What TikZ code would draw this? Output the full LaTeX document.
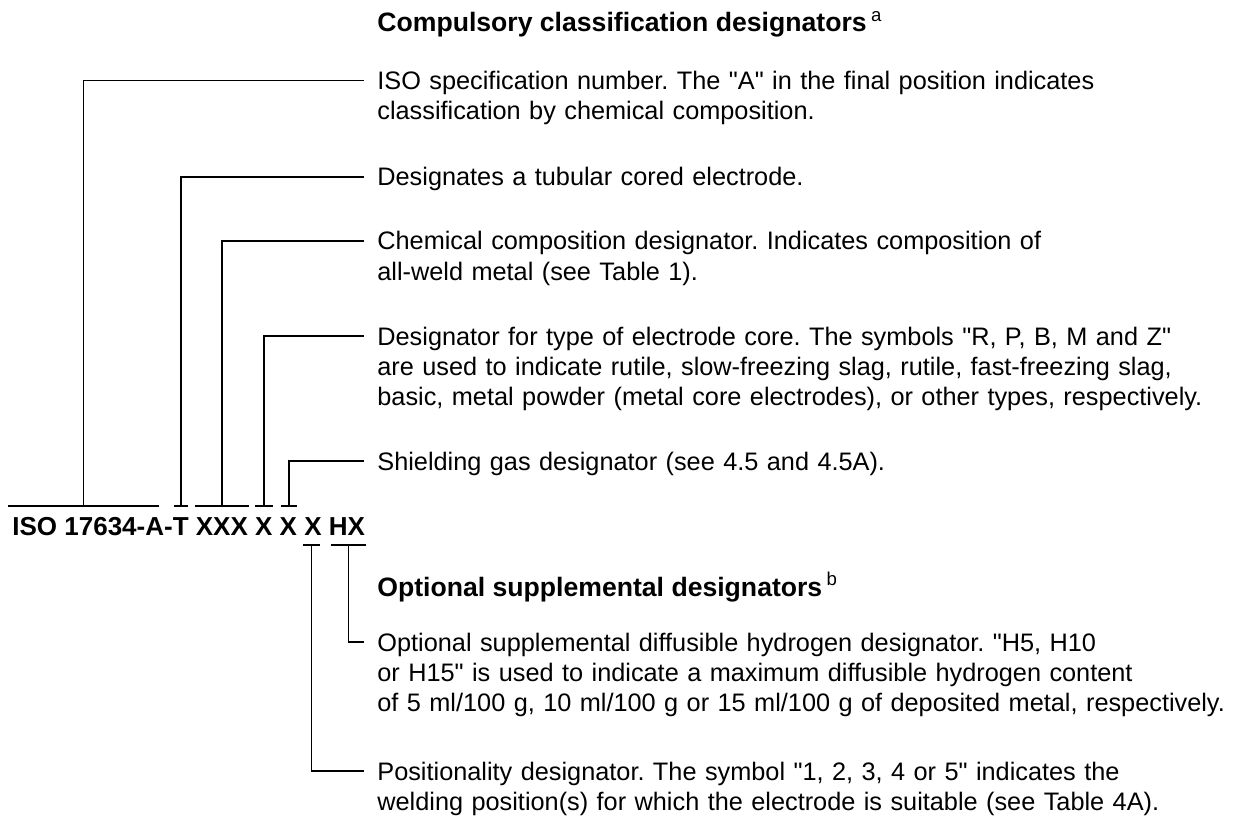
\documentclass[tikz,border=0pt]{standalone}
\usepackage{fontspec}
\setmainfont{Liberation Sans}
\usetikzlibrary{calc}
\frenchspacing

\begin{document}
\begin{tikzpicture}[
    x=0.5pt, y=-0.5pt,
    lead/.style={line width=0.7pt, color=black},
    desc/.style={anchor=base west, inner sep=0pt, align=left, text width=440pt,
                 font=\fontsize{12.65pt}{15pt}\selectfont},
    head/.style={anchor=base west, inner sep=0pt,
                 font=\fontsize{13.3pt}{15pt}\selectfont\bfseries},
  ]
    \useasboundingbox (0,0) rectangle (1242,818);

    %% the designation itself
    \node[head, font=\fontsize{13pt}{15pt}\selectfont\bfseries] (code) at (12,535)
      {ISO 17634-A-T XXX X X X HX};

    %% group headings
    \node[head] (comp) at (377,32)
      {Compulsory classification designators\,\textsuperscript{\mdseries a}};
    \node[head] (opt) at (377,596)
      {Optional supplemental designators\,\textsuperscript{\mdseries b}};

    %% descriptions
    \node[desc] (iso) at (377,89.5)
      {ISO specification number. The \textquotedbl A\textquotedbl{} in the final position indicates\\
       classification by chemical composition.};
    \node[desc] (tub) at (377,186) {Designates a tubular cored electrode.};
    \node[desc] (chem) at (377,250)
      {Chemical composition designator. Indicates composition of\\
       all-weld metal (see Table 1).};
    \node[desc] (core) at (377,345)
      {Designator for type of electrode core. The symbols \textquotedbl R, P, B, M and Z\textquotedbl\\
       are used to indicate rutile, slow-freezing slag, rutile, fast-freezing slag,\\
       basic, metal powder (metal core electrodes), or other types, respectively.};
    \node[desc] (gas) at (377,470) {Shielding gas designator (see 4.5 and 4.5A).};
    \node[desc] (hyd) at (377,651)
      {Optional supplemental diffusible hydrogen designator. \textquotedbl H5, H10\\
       or H15\textquotedbl{} is used to indicate a maximum diffusible hydrogen content\\
       of 5 ml/100 g, 10 ml/100 g or 15 ml/100 g of deposited metal, respectively.};
    \node[desc] (pos) at (377,780)
      {Positionality designator. The symbol \textquotedbl 1, 2, 3, 4 or 5\textquotedbl{} indicates the\\
       welding position(s) for which the electrode is suitable (see Table 4A).};

    %% bars over / under the parts of the designation
    \foreach \a/\b/\y/\n in {8/159/506/isobar, 174/188/506/tubbar,
        195/249/506/chembar, 255/273/506/corebar, 281/297/506/gasbar,
        303/320/545/posbar, 331/366/545/hydbar} {
      \draw[lead] (\a,\y) -- (\b,\y);
      \coordinate (\n) at ({(\a+\b)/2},\y);
    }

    %% leaders
    \draw[lead] (isobar)  |- ([shift={(-13,-9)}]iso.base west);
    \draw[lead] (tubbar)  |- ([shift={(-13,-9)}]tub.base west);
    \draw[lead] (chembar) |- ([shift={(-13,-9)}]chem.base west);
    \draw[lead] (corebar) |- ([shift={(-13,-9)}]core.base west);
    \draw[lead] (gasbar)  |- ([shift={(-13,-9)}]gas.base west);
    \draw[lead] (hydbar)  |- ([shift={(-13,-9)}]hyd.base west);
    \draw[lead] (posbar)  |- ([shift={(-13,-9)}]pos.base west);
\end{tikzpicture}
\end{document}
